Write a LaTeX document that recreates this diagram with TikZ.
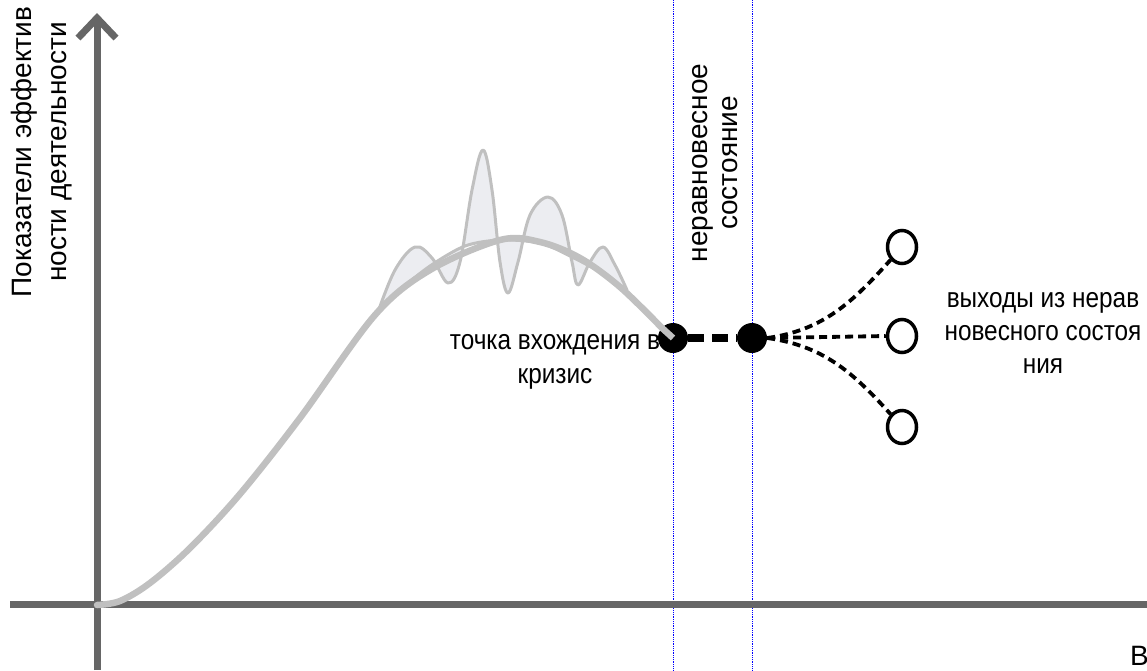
\documentclass[tikz,border=0pt]{standalone}
\usepackage{fontspec}
\setmainfont{Liberation Sans}
\newfontfamily\narrowfont[FakeStretch=0.87]{Liberation Sans}
\usetikzlibrary{arrows.meta,shapes.geometric}
\definecolor{axisgray}{HTML}{666666}
\definecolor{curvegray}{HTML}{C0C0C0}
\definecolor{wigglefill}{HTML}{ECEDF1}
\tikzset{
  axisline/.style={draw=axisgray,line width=7pt},
  trend/.style={draw=curvegray,line width=6.5pt,line cap=round,line join=round},
  wiggle/.style={draw=curvegray,line width=3pt,line join=round,fill=wigglefill,even odd rule},
  boundary/.style={draw=blue,line width=0.8pt,densely dotted},
  blackdot/.style={circle,fill=black,minimum size=30pt,inner sep=0pt},
  exitmark/.style={ellipse,draw=black,line width=3.5pt,minimum width=29pt,minimum height=33pt,inner sep=0pt,fill=white},
  bridge/.style={draw=black,line width=8pt,dash pattern=on 16pt off 8pt},
  branch/.style={draw=black,line width=3.8pt,dash pattern=on 8pt off 5pt},
  bigtext/.style={font=\fontsize{28}{35}\selectfont,align=center,inner sep=0pt},
  narrowtext/.style={font=\narrowfont\fontsize{28}{34}\selectfont,align=center,inner sep=0pt}
}
\begin{document}
\begin{tikzpicture}[x=1pt,y=-1pt]
\useasboundingbox (0,0) rectangle (1147,670);

% boundaries of the non-equilibrium zone
\coordinate (b1top) at (673,0);
\coordinate (b1bot) at (673,670);
\coordinate (b2top) at (752,0);
\coordinate (b2bot) at (752,670);
\draw[boundary] (b1top) -- (b1bot);
\draw[boundary] (b2top) -- (b2bot);

% axes
\coordinate (origin) at (97,604);
\coordinate (ybot) at (97,670);
\coordinate (ytop) at (97,13);
\coordinate (xleft) at (10,604);
\coordinate (xright) at (1147,604);
\draw[axisline] (xleft) -- (xright);
\draw[axisline,-{Straight Barb[length=20pt,width=38pt]}] (ybot) -- (ytop);

% oscillations around the peak
\draw[wiggle]
  plot[smooth,tension=0.6] coordinates {(378,312) (395,270) (415,247) (432,258) (448,283) (460,262) (472,190) (483,150) (492,190) (500,262) (508,293) (518,262) (530,215) (548,197) (562,215) (572,262) (578,285) (590,262) (603,247) (615,265) (627,290)}
  -- plot[smooth] coordinates {(627,290) (600,272) (570,256) (540,243) (500,240) (465,246) (430,266) (400,290) (378,312)}
  -- cycle;

% points and exits
\node[blackdot] (p1) at (673,338) {};
\node[blackdot] (p2) at (752,338) {};
\node[exitmark] (o1) at (902,247) {};
\node[exitmark] (o2) at (902,336) {};
\node[exitmark] (o3) at (902,427) {};

% development curve
\draw[trend] plot[smooth,tension=0.55] coordinates {(97,605) (120,601) (150,583) (190,548) (240,494) (300,418) (375,315) (430,270) (500,240) (540,242) (580,258) (620,287) (662,328)};
\draw[trend,line cap=butt] (662,328) -- (p1.center);

\draw[bridge] (p1) -- (p2);
\draw[branch] (p2.east) to[out=8,in=228] (o1.south west);
\draw[branch] (p2.east) -- (o2.west);
\draw[branch] (p2.east) to[out=-8,in=132] (o3.north west);

% labels
\node[bigtext,rotate=90] (ylabel) at (42,152) {Показатели эффектив\\ности деятельности};
\node[bigtext,rotate=90,font=\fontsize{28}{30}\selectfont] (zonelabel) at (715,163) {неравновесное\\состояние};
\node[narrowtext] (entry) at (555,362) {точка вхождения в\\кризис};
\node[narrowtext,font=\narrowfont\fontsize{28}{33}\selectfont] (exits) at (1043,333) {выходы из нерав\\новесного состоя\\ния};
\node[bigtext,anchor=base east] (xlabel) at (1149,665) {В};
\end{tikzpicture}
\end{document}
